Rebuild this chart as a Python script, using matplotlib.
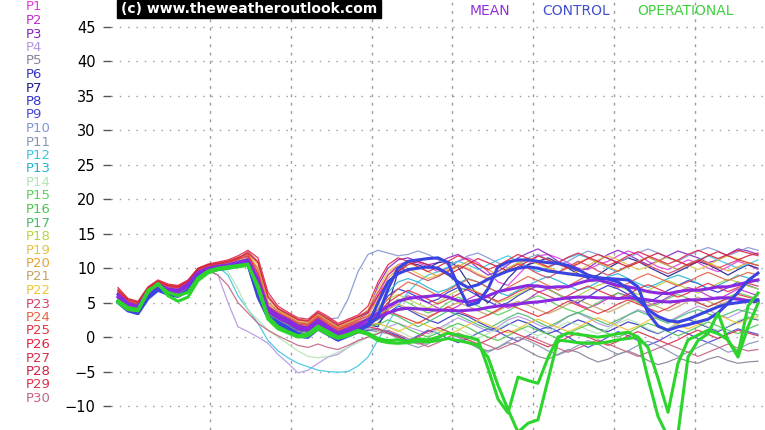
import matplotlib
matplotlib.use("Agg")
import matplotlib.pyplot as plt
from matplotlib.patches import Rectangle
import numpy as np

# ensemble members P1..P30, 6-hourly steps (65 points)
p1 = [6.8,5.5,5.0,7.2,8.0,7.5,7.2,8.0,9.8,10.3,10.6,10.8,11.2,11.8,9.0,4.5,3.5,2.8,2.0,1.8,3.0,2.2,1.2,1.8,2.4,3.0,
      6.0,9.0,10.5,11.0,10.8,10.2,9.5,10.0,11.0,11.5,10.8,9.5,8.0,7.5,9.0,10.5,11.8,12.0,11.5,10.8,10.0,9.8,10.5,11.0,11.8,12.5,12.0,11.0,10.2,9.8,10.5,11.2,10.8,10.0,9.5,10.2,11.0,10.5,9.8]
p2 = [6.2,4.8,4.4,6.5,7.6,7.0,6.8,7.6,9.4,10.0,10.3,10.5,10.9,11.2,7.5,3.8,2.8,2.2,1.2,1.0,2.4,1.4,0.6,1.2,1.8,2.2,
      3.0,4.0,5.2,6.0,5.5,5.0,4.2,3.8,4.5,5.5,6.2,5.8,5.0,4.2,4.8,5.5,6.5,7.0,6.2,5.5,4.8,4.2,4.8,5.6,6.4,6.0,5.2,4.6,5.0,5.8,6.5,7.2,6.8,6.0,5.5,6.2,7.0,6.5,6.0]
p3 = [5.8,4.5,4.0,6.2,7.4,6.8,6.6,7.5,9.3,9.9,10.2,10.4,10.8,11.6,10.0,5.0,3.8,3.0,2.2,2.0,3.2,2.4,1.5,2.0,2.6,3.5,
      7.5,10.0,11.2,11.5,11.0,10.5,10.8,11.5,12.0,11.2,10.0,9.0,9.5,10.5,11.5,12.2,12.8,12.0,11.0,10.2,9.5,10.0,11.0,12.0,12.6,12.0,11.2,10.5,11.0,11.8,12.5,12.0,11.5,10.8,11.2,12.0,12.8,12.5,12.0]
p4 = [6.0,4.6,4.2,6.4,7.5,6.9,6.7,7.6,9.2,9.8,9.0,5.0,1.5,0.8,0.0,-0.9,-2.5,-3.8,-5.2,-4.8,-3.8,-2.9,-2.5,-1.5,-0.5,0.0,
      0.5,1.5,2.0,1.5,1.0,0.5,1.2,2.0,2.8,2.2,1.5,0.8,1.5,2.5,3.0,2.5,1.8,1.2,2.0,3.0,3.5,2.8,2.0,1.5,2.2,3.2,4.0,3.5,2.8,2.2,3.0,3.8,4.5,4.0,3.2,2.8,3.5,4.2,3.8]
p5 = [5.5,4.3,3.8,6.0,7.2,6.6,6.4,7.2,9.0,9.7,10.0,10.3,10.6,10.9,7.0,3.2,2.4,1.6,0.6,0.4,1.6,0.6,-0.2,0.4,0.8,1.0,
      0.8,0.5,0.2,-0.5,-1.0,-0.8,-0.2,0.5,0.0,-0.8,-1.5,-2.0,-1.5,-0.8,-1.2,-2.0,-2.8,-3.2,-2.5,-1.8,-2.2,-3.0,-3.6,-3.2,-2.5,-2.0,-2.6,-3.4,-4.0,-3.6,-3.0,-3.5,-3.8,-3.2,-2.8,-3.4,-3.8,-3.6,-3.5]
p6 = [5.2,4.0,3.6,5.8,7.0,6.4,6.2,7.0,8.8,9.5,9.9,10.2,10.5,10.8,6.5,3.0,2.2,1.4,0.4,0.2,1.5,0.8,0.0,0.6,1.2,1.6,
      2.0,3.5,4.5,4.0,3.2,2.5,2.0,2.8,3.5,3.0,2.2,1.5,1.0,1.8,2.5,2.0,1.2,0.5,1.0,1.8,2.5,2.0,1.2,0.8,1.5,2.2,1.8,1.0,0.5,1.2,2.0,2.6,2.0,1.4,0.8,1.5,2.2,2.8,2.5]
p7 = [6.0,4.8,4.3,6.4,7.6,7.0,6.8,7.7,9.5,10.1,10.3,10.5,10.9,11.3,8.0,3.6,2.8,2.0,1.2,1.0,2.2,1.2,0.4,1.0,1.5,1.8,
      1.5,4.5,9.5,10.8,10.5,10.0,10.8,11.0,10.2,8.0,6.0,5.0,6.5,8.5,10.0,10.5,11.0,11.5,10.8,10.0,9.2,8.5,9.0,10.0,10.8,11.5,11.0,10.2,9.5,8.8,9.5,10.2,11.0,10.5,9.8,9.0,9.8,10.5,10.0]
p8 = [5.4,4.2,3.8,6.0,7.2,6.6,6.4,7.3,9.0,9.7,10.0,10.3,10.6,11.0,7.2,3.4,2.6,1.8,0.9,0.7,2.0,1.0,0.2,0.8,1.4,2.0,
      3.5,6.0,7.0,6.5,5.8,5.0,5.5,6.5,7.2,6.8,6.0,5.2,4.5,5.0,6.0,6.8,7.5,7.0,6.2,5.5,5.0,5.8,6.8,7.5,7.0,6.2,5.5,5.0,5.8,6.8,7.5,8.2,7.8,7.0,6.5,7.2,8.0,7.5,7.0]
p9 = [5.0,3.8,3.4,5.6,6.8,6.2,6.0,6.8,8.6,9.4,9.8,10.0,10.4,10.6,6.0,2.6,1.8,1.0,0.0,-0.2,1.0,0.2,-0.6,0.0,0.6,1.0,
      1.2,0.8,0.2,-0.5,0.2,1.0,0.5,-0.2,-0.8,-0.2,0.6,1.2,0.8,0.0,-0.6,0.2,1.0,1.5,0.8,0.0,-0.8,-1.5,-0.8,0.0,0.8,0.2,-0.5,-1.2,-0.6,0.2,1.0,0.5,-0.2,-0.8,-0.2,0.6,1.2,0.8,0.4]
p10 = [6.4,5.0,4.6,6.7,7.8,7.2,7.0,7.8,9.6,10.2,10.5,10.7,11.0,11.4,8.8,4.2,3.4,2.8,2.0,1.9,3.0,2.6,2.8,5.5,9.5,12.0,
       12.6,12.2,11.8,12.0,12.5,12.0,11.2,10.5,11.0,11.8,12.2,11.5,10.8,10.0,10.8,11.5,12.0,11.2,10.5,11.0,11.8,12.5,12.0,11.5,10.8,11.5,12.2,12.8,12.2,11.5,11.0,11.8,12.5,13.0,12.5,11.8,12.4,13.0,12.6]
p11 = [5.6,4.4,4.0,6.1,7.3,6.7,6.5,7.4,9.1,9.8,10.1,10.3,10.7,11.0,7.0,3.2,2.4,1.6,0.7,0.5,1.8,0.8,0.0,0.6,1.0,1.2,
       1.0,0.5,-0.2,-1.0,-1.5,-1.0,-0.2,0.5,0.0,-0.8,-1.6,-2.2,-1.5,-0.6,0.0,-0.5,-1.2,-2.0,-2.6,-2.0,-1.2,-0.5,-1.0,-1.8,-2.5,-2.0,-1.2,-0.6,-1.2,-2.0,-2.8,-2.2,-1.5,-0.8,-1.4,-2.2,-1.8,-1.0,-0.6]
p12 = [6.1,4.9,4.4,6.6,7.7,7.1,6.9,7.7,9.4,10.0,10.2,9.0,6.0,4.0,2.0,-0.5,-2.0,-3.0,-3.8,-4.3,-4.8,-5.0,-5.1,-5.0,-4.2,-2.9,
       -0.4,2.0,4.5,6.5,8.0,9.0,9.5,10.2,11.0,10.5,9.8,10.5,11.2,11.8,11.0,10.2,9.5,10.0,10.8,11.5,12.0,11.5,10.8,10.0,9.5,10.2,11.0,11.6,11.0,10.4,9.8,10.5,11.2,11.8,11.2,10.6,10.0,10.6,11.2]
p13 = [5.7,4.5,4.1,6.3,7.5,6.9,6.7,7.5,9.2,9.9,10.2,10.4,10.8,11.2,8.0,3.8,3.0,2.4,1.6,1.4,2.6,1.6,0.8,1.4,2.0,2.6,
       4.0,6.5,8.0,8.5,8.0,7.2,6.5,7.0,7.8,8.5,8.0,7.2,6.5,6.0,6.8,7.5,8.2,8.8,8.2,7.5,6.8,7.2,8.0,8.8,9.2,8.5,7.8,7.2,7.8,8.5,9.0,8.5,7.8,7.0,7.5,8.2,9.0,8.6,8.0]
p14 = [6.3,5.0,4.5,6.6,7.7,7.1,6.9,7.7,9.5,10.1,10.3,9.5,7.0,3.9,2.5,1.0,0.0,-1.0,-2.0,-2.8,-3.0,-2.8,-2.2,-1.5,-0.8,0.0,
       0.8,1.5,1.0,0.2,-0.5,0.2,1.0,1.8,1.2,0.5,-0.2,0.5,1.2,2.0,1.5,0.8,0.2,0.8,1.5,2.2,1.8,1.0,0.5,1.2,2.0,2.6,2.0,1.2,0.6,1.2,2.0,2.8,2.2,1.5,1.0,1.6,2.4,3.0,2.6]
p15 = [5.3,4.2,3.7,5.9,7.1,6.5,6.3,7.1,8.9,9.6,10.0,10.2,10.6,10.9,7.5,3.5,2.6,1.8,1.0,0.8,2.0,1.2,0.3,0.9,1.5,2.0,
       2.8,4.5,5.5,5.0,4.2,3.5,4.0,5.0,5.8,5.2,4.5,3.8,3.2,3.8,4.6,5.4,6.0,5.4,4.6,4.0,3.5,4.2,5.0,5.8,6.4,5.8,5.0,4.4,4.8,5.6,6.2,5.6,5.0,4.4,5.0,5.8,6.4,6.0,5.5]
p16 = [5.9,4.7,4.3,6.5,7.6,7.0,6.8,7.6,9.3,10.0,10.3,10.5,10.8,11.1,7.8,3.6,2.7,2.0,1.2,1.0,2.2,1.2,0.4,1.0,1.4,1.6,
       1.8,2.5,2.0,1.2,0.5,0.0,0.6,1.4,2.0,1.4,0.6,0.0,-0.5,0.2,1.0,1.6,1.0,0.4,-0.2,0.5,1.2,1.8,1.2,0.5,0.0,0.6,1.4,2.0,1.5,0.8,0.2,0.8,1.5,2.2,1.6,1.0,0.5,1.2,1.8]
p17 = [5.6,4.4,3.9,6.1,7.3,6.7,6.5,7.3,9.1,9.8,10.1,10.4,10.8,11.1,7.4,3.4,2.6,1.9,1.1,0.9,2.1,1.1,0.3,0.9,1.5,1.9,
       2.5,3.5,3.0,2.2,1.5,2.2,3.0,3.8,3.2,2.5,1.8,1.2,2.0,2.8,3.5,3.0,2.2,1.5,2.2,3.0,3.6,3.0,2.4,1.8,2.5,3.2,3.8,3.2,2.6,2.0,2.8,3.5,4.0,3.4,2.8,3.4,4.0,3.6,3.2]
p18 = [6.6,5.2,4.8,6.9,7.9,7.3,7.1,7.9,9.7,10.3,10.5,10.7,11.1,11.5,8.6,4.1,3.3,2.7,1.9,1.7,2.9,1.9,1.1,1.7,2.2,2.8,
       4.5,5.5,6.2,5.5,4.8,4.2,5.0,6.0,6.8,7.2,6.5,5.8,5.0,5.5,6.2,7.0,7.6,7.0,6.2,5.5,6.0,6.8,7.5,8.0,7.4,6.8,6.2,6.8,7.5,8.2,7.6,7.0,6.4,7.0,7.8,8.4,8.0,7.4,7.0]
p19 = [6.9,5.4,5.0,7.1,8.1,7.5,7.3,8.1,9.9,10.5,10.7,11.0,11.5,12.2,10.5,5.5,4.0,3.2,2.4,2.2,3.4,2.5,1.6,2.2,2.8,4.0,
       7.0,9.5,10.5,10.0,9.2,8.5,9.0,9.8,10.5,10.0,9.2,8.6,9.2,10.0,10.8,11.5,11.0,10.2,9.5,9.0,9.6,10.4,11.2,11.8,11.2,10.5,9.8,10.2,11.0,11.6,11.0,10.4,9.8,10.4,11.2,11.8,11.4,10.8,10.4]
p20 = [6.7,5.3,4.9,7.0,8.0,7.4,7.2,8.0,9.8,10.4,10.6,10.9,11.3,12.0,10.0,5.0,3.8,3.0,2.2,2.0,3.2,2.3,1.4,2.0,2.6,3.2,
       5.5,8.5,10.0,10.8,10.2,9.5,8.8,9.5,10.2,11.0,10.5,9.8,9.0,9.8,10.6,11.2,10.6,10.0,9.4,10.0,10.8,11.4,10.8,10.2,9.6,10.2,11.0,11.6,11.0,10.4,9.8,10.5,11.2,10.8,10.2,9.6,10.2,10.8,10.4]
p21 = [6.0,4.8,4.3,6.4,7.6,7.0,6.8,7.6,9.4,10.0,10.3,10.5,10.9,11.3,8.2,3.9,3.0,2.4,1.5,1.3,2.5,1.5,0.7,1.3,1.8,2.3,
       3.2,4.0,4.8,4.2,3.5,3.0,3.6,4.4,5.0,4.5,3.8,3.2,3.8,4.6,5.2,4.6,4.0,3.4,4.0,4.8,5.4,4.8,4.2,3.6,4.2,5.0,5.6,5.0,4.4,3.8,4.4,5.2,5.8,5.2,4.6,5.2,5.8,5.4,5.0]
p22 = [6.3,5.0,4.5,6.6,7.7,7.1,6.9,7.7,9.5,10.1,10.4,10.6,11.0,11.3,8.0,3.7,2.9,2.2,1.4,1.2,2.4,1.4,0.6,1.2,1.6,1.8,
       2.0,1.5,0.8,1.5,2.2,1.6,1.0,0.4,1.0,1.8,2.4,1.8,1.2,0.6,1.2,2.0,2.6,2.0,1.4,0.8,1.4,2.2,2.8,2.2,1.6,1.0,1.6,2.4,3.0,2.4,1.8,1.2,1.8,2.6,3.2,2.6,2.0,2.6,3.0]
p23 = [6.4,5.1,4.7,6.8,7.9,7.3,7.1,8.0,9.7,10.3,10.6,10.9,11.4,12.4,11.0,6.0,4.2,3.4,2.6,2.4,3.6,2.8,1.8,2.4,3.0,3.8,
       6.5,9.0,10.2,9.5,8.8,8.2,8.8,9.6,10.4,9.8,9.0,8.4,9.0,9.8,10.6,10.0,9.2,8.6,9.4,10.2,11.0,10.4,9.6,9.0,9.6,10.4,11.0,10.4,9.8,9.2,9.8,10.6,11.2,10.6,10.0,10.6,11.2,10.8,10.4]
p24 = [7.0,5.5,5.1,7.2,8.2,7.6,7.4,8.2,10.0,10.5,10.8,11.0,11.6,12.0,9.5,4.6,3.6,2.9,2.1,1.9,3.1,2.1,1.3,1.9,2.5,3.0,
       4.0,5.5,7.0,8.0,7.5,6.8,6.0,6.8,7.6,8.4,8.0,7.2,6.5,7.2,8.0,8.8,8.2,7.5,6.8,7.4,8.2,9.0,8.4,7.8,7.2,7.8,8.6,9.2,8.6,8.0,7.4,8.0,8.8,9.4,8.8,8.2,8.8,9.4,9.0]
p25 = [6.6,5.2,4.8,6.9,8.0,7.4,7.2,8.0,9.8,10.3,10.6,10.8,11.3,11.8,9.2,4.4,3.4,2.7,1.9,1.7,2.9,1.9,1.1,1.7,2.2,2.6,
       3.0,3.8,3.2,2.6,2.0,2.8,3.6,4.4,3.8,3.2,2.6,3.2,4.0,4.8,4.2,3.6,3.0,3.6,4.4,5.2,4.6,4.0,3.4,4.0,4.8,5.4,4.8,4.2,3.6,4.2,5.0,5.6,5.0,4.4,5.0,5.6,6.2,5.8,5.4]
p26 = [7.2,5.6,5.2,7.3,8.3,7.7,7.5,8.3,10.0,10.6,10.9,11.2,11.8,12.6,11.5,6.5,4.5,3.6,2.8,2.6,3.8,3.0,2.0,2.6,3.2,4.5,
       8.0,10.5,11.5,11.0,10.2,9.5,10.2,11.0,11.8,11.2,10.5,9.8,10.4,11.2,12.0,11.4,10.8,10.2,10.8,11.6,12.2,11.6,11.0,10.4,11.0,11.8,12.4,11.8,11.2,10.6,11.2,12.0,12.6,12.0,11.4,12.0,12.6,12.2,11.8]
p27 = [5.8,4.6,4.1,6.3,7.4,6.8,6.6,7.5,9.2,9.9,10.2,10.4,10.8,11.2,7.6,3.5,2.7,2.0,1.1,0.9,2.1,1.1,0.3,0.9,1.3,1.5,
       1.2,0.6,0.0,-0.6,0.0,0.8,1.4,0.8,0.2,-0.4,-1.0,-0.4,0.4,1.0,0.4,-0.2,-0.8,-1.4,-0.8,0.0,0.6,0.0,-0.6,-1.2,-0.6,0.2,0.8,0.2,-0.4,-1.0,-0.4,0.4,1.0,0.4,-0.2,0.4,1.0,0.6,0.2]
p28 = [6.8,5.4,5.0,7.1,8.1,7.5,7.3,8.1,9.9,10.5,10.7,11.0,11.5,12.2,10.8,5.8,4.1,3.3,2.5,2.3,3.5,2.6,1.7,2.3,2.9,3.6,
       6.0,8.0,9.5,10.5,11.0,10.5,9.8,9.0,9.8,10.6,11.4,10.8,10.2,9.6,10.2,11.0,11.8,11.2,10.6,10.0,10.6,11.4,12.0,11.4,10.8,10.2,10.8,11.6,12.2,11.6,11.0,10.4,11.0,11.8,12.4,11.8,11.2,11.8,12.2]
p29 = [6.2,4.9,4.4,6.5,7.6,7.0,6.8,7.7,9.4,10.0,10.3,10.5,10.9,11.4,8.4,4.0,3.1,2.5,1.7,1.5,2.7,1.7,0.9,1.5,2.0,2.4,
       3.5,5.0,6.0,6.8,6.2,5.5,4.8,5.5,6.2,7.0,6.4,5.8,5.2,5.8,6.6,7.2,6.6,6.0,5.4,6.0,6.8,7.4,6.8,6.2,5.6,6.2,7.0,7.6,7.0,6.4,5.8,6.4,7.2,7.8,7.2,6.6,7.2,7.8,7.4]
p30 = [5.5,4.3,3.9,6.0,7.2,6.6,6.4,7.2,9.0,9.6,9.0,7.5,5.0,3.5,2.0,1.0,0.2,-0.5,-1.2,-1.5,-1.0,-1.5,-1.8,-1.2,-0.5,0.0,
       0.5,1.0,0.4,-0.2,-0.8,-1.4,-0.8,0.0,0.6,0.0,-0.6,-1.2,-1.8,-1.2,-0.6,0.2,-0.4,-1.0,-1.6,-2.2,-1.6,-1.0,-0.4,-1.0,-1.6,-2.2,-2.8,-2.2,-1.6,-1.0,-1.6,-2.2,-2.8,-2.2,-1.6,-1.0,-1.6,-2.0,-1.8]

mean_a = [6.2,4.9,4.5,6.6,7.6,7.0,6.8,7.7,9.4,10.0,10.3,10.5,10.9,11.2,8.4,4.2,3.2,2.5,1.6,1.3,2.5,1.5,0.6,1.2,1.8,2.6,
          3.5,4.5,5.2,5.6,5.8,5.9,6.1,5.8,5.3,5.1,5.4,6.0,6.6,6.9,7.2,7.5,7.4,7.2,7.3,7.3,7.8,8.2,8.3,7.9,7.5,7.3,7.0,6.6,6.4,6.3,6.6,6.8,6.8,7.0,7.3,7.3,7.6,8.0,8.3]
mean_b = [5.8,4.6,4.1,6.3,7.4,6.8,6.6,7.4,9.2,9.8,10.1,10.3,10.6,10.9,7.8,3.8,2.8,2.1,1.2,1.0,2.1,1.1,0.3,0.9,1.4,2.0,
          2.8,3.5,4.0,4.2,4.1,4.0,3.9,3.9,3.8,3.9,4.0,4.3,4.5,4.6,4.8,5.0,5.1,5.3,5.5,5.7,5.8,5.8,5.7,5.7,5.6,5.7,5.6,5.4,5.2,5.1,5.2,5.4,5.4,5.5,5.7,5.7,5.5,5.3,5.1]
control_a = [5.2,4.0,3.6,5.8,7.0,6.3,6.0,6.8,8.8,9.6,10.0,10.2,10.5,10.6,6.0,3.0,2.2,1.4,0.5,0.3,1.5,0.6,-0.2,0.4,1.0,1.6,
             3.0,7.0,10.0,11.0,11.2,11.4,11.5,10.8,7.5,4.6,5.0,7.0,10.2,10.9,11.2,11.2,11.0,10.8,10.7,10.4,9.8,9.0,8.6,8.5,8.4,8.3,7.3,3.5,1.6,1.0,1.5,1.8,2.2,2.6,3.5,4.9,6.5,8.2,9.3]
control_b = [5.0,3.8,3.4,5.6,6.8,6.2,5.9,6.7,8.6,9.4,9.8,10.0,10.3,10.5,5.8,2.8,2.0,1.2,0.3,0.1,1.3,0.4,-0.4,0.2,0.8,1.8,
             5.0,8.0,9.2,9.8,10.0,10.2,10.0,9.2,8.0,7.2,7.6,8.4,9.0,9.6,10.0,10.2,10.0,9.6,9.4,9.2,9.0,8.8,8.6,8.4,8.0,7.0,5.5,4.0,3.0,2.4,2.2,2.6,3.2,3.8,4.4,4.8,5.0,5.2,5.4]
oper_a = [5.0,4.0,3.8,6.5,7.8,6.0,5.2,5.8,8.2,9.3,9.8,10.0,10.2,10.4,7.5,3.0,1.5,0.8,0.2,0.5,1.6,0.8,0.0,0.4,1.0,0.6,
          -0.2,-0.5,-0.4,-0.6,-0.3,-0.4,0.0,0.6,0.3,0.0,-0.4,-4.5,-9.0,-11.0,-5.8,-6.3,-6.7,-3.0,0.0,0.6,0.4,0.2,0.0,0.2,0.5,0.7,0.0,-1.5,-6.0,-10.9,-3.8,-0.4,0.3,1.0,0.5,-0.4,-2.9,1.5,4.9]
oper_b = [5.3,4.3,4.0,6.8,7.6,6.5,6.0,6.5,8.6,9.6,10.0,10.2,10.4,10.6,7.0,2.6,1.2,0.6,0.0,0.2,1.2,0.4,-0.2,0.2,0.8,0.4,
          -0.5,-0.8,-0.9,-0.8,-0.6,-0.7,-0.5,-0.2,-0.5,-0.8,-1.2,-2.9,-7.0,-10.5,-13.8,-12.5,-12.0,-6.2,-0.4,-0.6,-0.8,-0.9,-0.9,-0.7,-0.4,-0.2,0.0,-6.0,-11.5,-14.5,-14.0,-2.9,-0.5,0.5,3.5,-0.5,-2.5,4.5,6.4]

members = [p1, p2, p3, p4, p5, p6, p7, p8, p9, p10, p11, p12, p13, p14, p15,
           p16, p17, p18, p19, p20, p21, p22, p23, p24, p25, p26, p27, p28, p29, p30]
member_labels = ["P%d" % (k + 1) for k in range(30)]
member_colors = ["#e03ce0", "#c42ccc", "#8a22c8", "#b496e0", "#8c8098",
                 "#3434c4", "#1e1e8c", "#3232d0", "#4848e0", "#8496d4",
                 "#8896b4", "#3cc4e4", "#28b4d0", "#b4e4b4", "#5cd05c",
                 "#50c450", "#48bc6c", "#b4d444", "#e4c444", "#e4a434",
                 "#c4a464", "#f0c434", "#d44464", "#e46444", "#e43444",
                 "#e02444", "#d8304c", "#d02040", "#e0304c", "#c46484"]

yticks = [-10, -5, 0, 5, 10, 15, 20, 25, 30, 35, 40, 45]
day_lines = [9.2, 17.3, 25.4, 33.4, 41.5, 49.6, 57.7]

fig = plt.figure(figsize=(7.65, 4.3), dpi=100)
ax = fig.add_axes([111 / 765, 0, 654 / 765, 1])
ax.set_xlim(-0.7, 64.7)
ax.set_ylim(-13.48, 48.92)

for y in yticks:
    ax.axhline(y, color="#9a9a9a", lw=1, ls=(0, (1, 5)), zorder=0)
for v in day_lines:
    ax.axvline(v, color="#9a9a9a", lw=1, ls=(0, (2, 4)), zorder=0)

for s, c in zip(members, member_colors):
    ax.plot(np.arange(len(s)), s, color=c, lw=0.9, alpha=0.9)

ax.plot(np.arange(len(mean_a)), mean_a, color="#8a2ae0", lw=2.2)
ax.plot(np.arange(len(mean_b)), mean_b, color="#8a2ae0", lw=2.2)
ax.plot(np.arange(len(control_a)), control_a, color="#3a44e0", lw=2.2)
ax.plot(np.arange(len(control_b)), control_b, color="#3a44e0", lw=2.2)
ax.plot(np.arange(len(oper_a)), oper_a, color="#2cd42c", lw=2.2)
ax.plot(np.arange(len(oper_b)), oper_b, color="#2cd42c", lw=2.2)

for sp in ax.spines.values():
    sp.set_visible(False)
ax.set_xticks([])
ax.set_yticks(yticks)
ax.tick_params(axis="y", length=6, width=1, color="#555555", pad=5, labelsize=10.5)

# member key down the left edge
for k, (lab, c) in enumerate(zip(member_labels, member_colors)):
    fig.text(26 / 765, 1 - (7 + 13.5 * k) / 430, lab, color=c, fontsize=9.5,
             ha="left", va="center")

fig.patches.append(Rectangle((117 / 765, 1 - 18 / 430), 264 / 765, 18 / 430,
                             transform=fig.transFigure, color="black"))
fig.text(249 / 765, 1 - 9 / 430, "(c) www.theweatheroutlook.com", color="white",
         fontsize=10, fontweight="bold", ha="center", va="center")

fig.text(490 / 765, 1 - 11 / 430, "MEAN", color="#9030d8", fontsize=10, ha="center", va="center")
fig.text(576 / 765, 1 - 11 / 430, "CONTROL", color="#4050d0", fontsize=10, ha="center", va="center")
fig.text(685 / 765, 1 - 11 / 430, "OPERATIONAL", color="#40d040", fontsize=10, ha="center", va="center")

fig.savefig("out.png", dpi=100)
